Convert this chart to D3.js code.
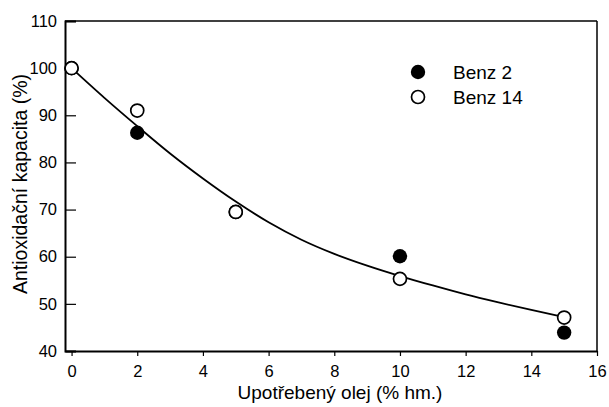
<!DOCTYPE html>
<html><head><meta charset="utf-8">
<script src="https://cdn.jsdelivr.net/npm/d3@7"></script>
<style>body{margin:0;background:#fff}svg{display:block}text{font-family:"Liberation Sans",Arial,sans-serif;fill:#000}</style>
</head><body>
<svg id="c" width="609" height="407"></svg>
<script>
const xVals = [0, 2, 5, 10, 15];
const benz2 = [100, 86.3, 69.5, 60.1, 43.9];
const benz14 = [100, 91.0, 69.5, 55.3, 47.1];
const fitX = [0, 1, 2, 3, 4, 5, 6, 7, 8, 9, 10, 11, 12, 13, 14, 15];
const fitY = [100, 93.7, 87.7, 81.9, 76.6, 71.7, 67.3, 63.6, 60.6, 58.1, 55.9, 53.9, 52.0, 50.3, 48.7, 47.2];
const xTicks = [0, 2, 4, 6, 8, 10, 12, 14, 16];
const yTicks = [40, 50, 60, 70, 80, 90, 100, 110];
const seriesNames = ["Benz 2", "Benz 14"];
const xTitle = "Upotřebený olej (% hm.)";
const yTitle = "Antioxidační kapacita (%)";

const L = 65, R = 597, T = 21, B = 351;
const svg = d3.select("#c");
const x = d3.scaleLinear().domain([-0.2, 16]).range([L, R]);
const y = d3.scaleLinear().domain([40, 110]).range([B, T]);

// frame top/right
svg.append("line").attr("x1", L).attr("x2", R).attr("y1", T).attr("y2", T).attr("stroke", "#000").attr("stroke-width", 1.5);
svg.append("line").attr("x1", R).attr("x2", R).attr("y1", T).attr("y2", B).attr("stroke", "#000").attr("stroke-width", 1.5);

const yAxis = svg.append("g").attr("transform", `translate(${L},0)`)
  .call(d3.axisLeft(y).tickValues(yTicks).tickSize(-11).tickPadding(8).tickFormat(d3.format("d")));
yAxis.select(".domain").attr("stroke-width", 2);
yAxis.selectAll(".tick line").attr("stroke-width", 1.2);
yAxis.selectAll("text").style("font-size", "16.5px").attr("fill", "#000");

const xAxis = svg.append("g").attr("transform", `translate(0,${B})`)
  .call(d3.axisBottom(x).tickValues(xTicks).tickSize(5).tickSizeOuter(0).tickPadding(9).tickFormat(d3.format("d")));
xAxis.select(".domain").attr("stroke-width", 2.2);
xAxis.selectAll(".tick line").attr("stroke-width", 1.2);
xAxis.selectAll("text").style("font-size", "16.5px").attr("fill", "#000");

svg.append("text").attr("x", 340).attr("y", 398.5).attr("text-anchor", "middle")
  .style("font-size", "19px").text(xTitle);
svg.append("text").attr("transform", `translate(27,184) rotate(-90)`).attr("text-anchor", "middle")
  .style("font-size", "19.5px").text(yTitle);

// fit curve
const fit = fitX.map((v, i) => [v, fitY[i]]);
svg.append("path").datum(fit)
  .attr("d", d3.line().x(d => x(d[0])).y(d => y(d[1])).curve(d3.curveMonotoneX))
  .attr("fill", "none").attr("stroke", "#000").attr("stroke-width", 1.8);

svg.append("g").selectAll("circle").data(xVals.map((v, i) => [v, benz2[i]])).join("circle")
  .attr("cx", d => x(d[0])).attr("cy", d => y(d[1])).attr("r", 7.2).attr("fill", "#000");
svg.append("g").selectAll("circle").data(xVals.map((v, i) => [v, benz14[i]])).join("circle")
  .attr("cx", d => x(d[0])).attr("cy", d => y(d[1])).attr("r", 6.5).attr("fill", "#fff").attr("stroke", "#000").attr("stroke-width", 1.7);

// legend
const lg = svg.append("g");
seriesNames.forEach((name, i) => {
  const cy = 72 + i * 25;
  lg.append("circle").attr("cx", 418).attr("cy", cy).attr("r", i === 0 ? 7.2 : 6.5)
    .attr("fill", i === 0 ? "#000" : "#fff").attr("stroke", "#000").attr("stroke-width", i === 0 ? 0 : 1.7);
  lg.append("text").attr("x", 453).attr("y", cy).attr("dy", "0.36em").style("font-size", "19px").text(name);
});
</script>
</body></html>
